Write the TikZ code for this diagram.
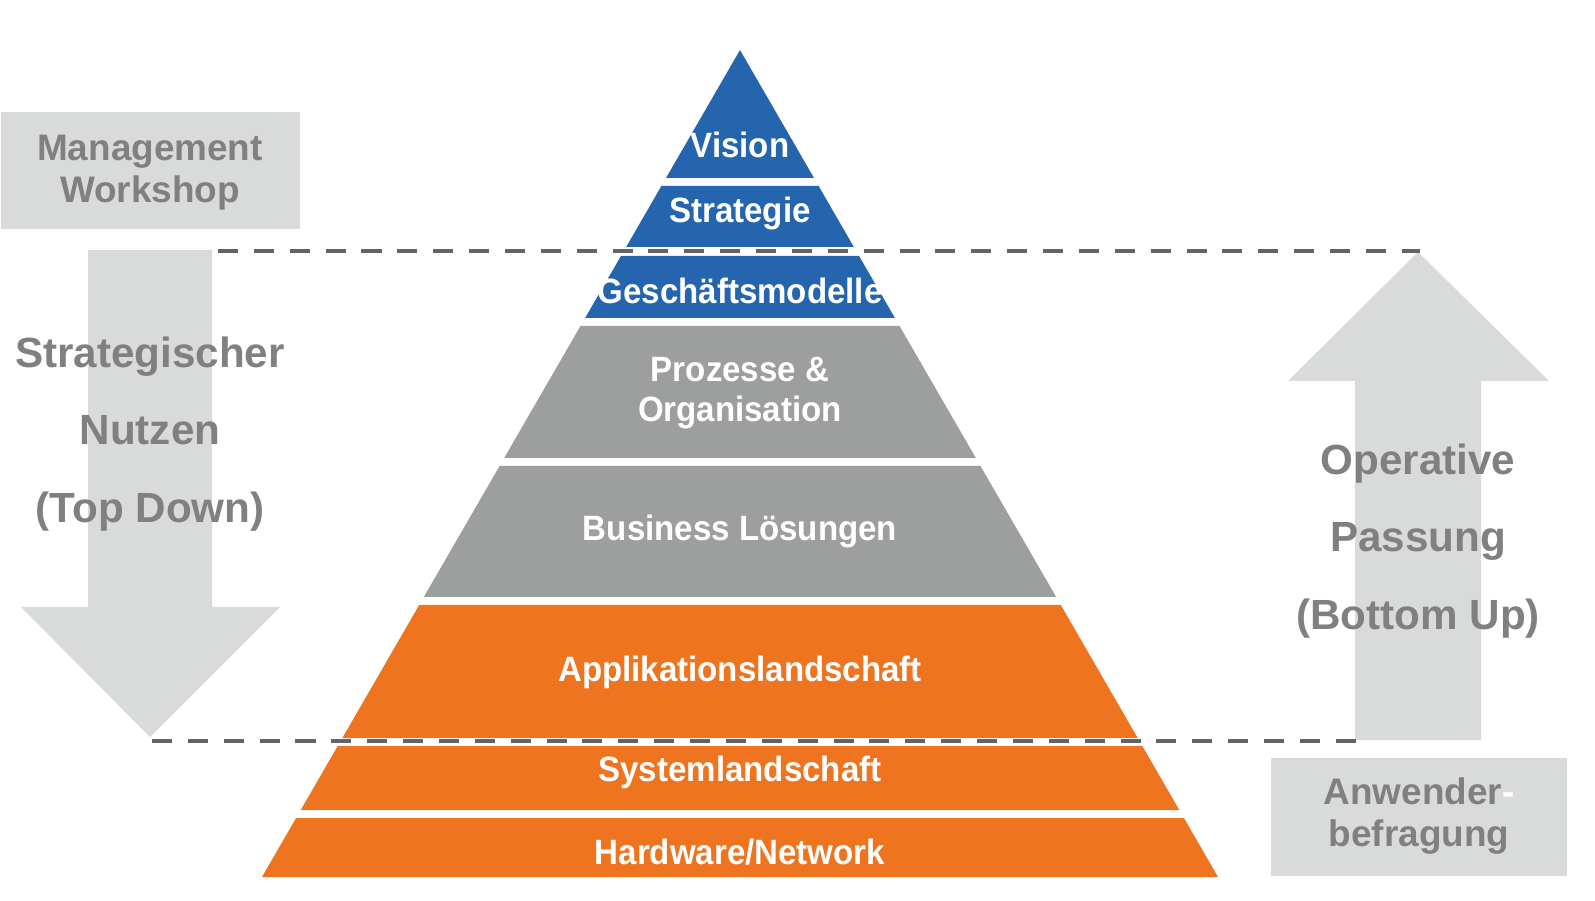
\documentclass[tikz,border=0pt]{standalone}
\usepackage{fontspec}
\setmainfont{Liberation Sans}
\newfontfamily\pyrfont[FakeStretch=0.94]{Liberation Sans}
\definecolor{pblue}{HTML}{2565AE}
\definecolor{pgray}{HTML}{9D9E9E}
\definecolor{porange}{HTML}{EE741F}
\definecolor{arrowgray}{HTML}{D9DADA}
\definecolor{textgray}{HTML}{808080}
\definecolor{dashgray}{HTML}{646464}

\begin{document}
\begin{tikzpicture}[x=0.01cm,y=-0.01cm,
    layertext/.style={text=white,font=\pyrfont\fontsize{10}{11.4}\selectfont\bfseries,align=center,inner sep=0pt},
    sidetext/.style={text=textgray,font=\fontsize{12}{22}\selectfont\bfseries,align=center,inner sep=0pt},
    boxtext/.style={text=textgray,font=\fontsize{10.5}{12}\selectfont\bfseries,align=center,inner sep=0pt},
    dashline/.style={dashgray,line width=1.1pt,dash pattern=on 5.7pt off 4.5pt}]
    \useasboundingbox (0,0) rectangle (1595,901);

    % side boxes and arrows
    \fill[arrowgray] (1,112) rectangle (300,229);
    \fill[arrowgray] (1271,758) rectangle (1567,876);
    \fill[arrowgray] (88,250) -- (212,250) -- (212,607) -- (280,607) -- (150,737) -- (21,607) -- (88,607) -- cycle;
    \fill[arrowgray] (1355,740) -- (1355,381) -- (1288,381) -- (1418,252) -- (1549,381) -- (1481,381) -- (1481,740) -- cycle;

    % pyramid
    \foreach \ta/\tb/\col in {50/178/pblue, 186/247/pblue, 256/318/pblue, 326/458/pgray,
        466/597/pgray, 605/738/porange, 746/810/porange, 818/877/porange}
      \fill[\col] ({740-0.578*(\ta-50)},\ta) -- ({740+0.578*(\ta-50)},\ta)
        -- ({740+0.578*(\tb-50)},\tb) -- ({740-0.578*(\tb-50)},\tb) -- cycle;

    \foreach \n/\ty/\txt in {vision/145/Vision, strategie/213/Strategie, geschaeft/291/Geschäftsmodelle,
        prozesse/393/{Prozesse \&\\Organisation}, business/531/Business Lösungen,
        applikation/672/Applikationslandschaft, system/772/Systemlandschaft, hardware/852/{Hardware/Network}}
      \node[layertext] (\n) at (740,\ty) {\txt};

    % dashed borders
    \coordinate (topl) at (218,251);
    \coordinate (topr) at (1420,251);
    \coordinate (botl) at (152,741);
    \coordinate (botr) at (1357,741);
    \draw[dashline] (topl) -- (topr);
    \draw[dashline] (botl) -- (botr);

    \node[boxtext] (mgmt) at (150,173) {Management\\Workshop};
    \node[boxtext] (anwender) at (1419,816) {Anwender\textcolor{white}{-}\\befragung};
    \node[sidetext] (nutzen) at (150,434) {Strategischer\\Nutzen\\(Top Down)};
    \node[sidetext] (passung) at (1418,541) {Operative\\Passung\\(Bottom Up)};
  \end{tikzpicture}
\end{document}
